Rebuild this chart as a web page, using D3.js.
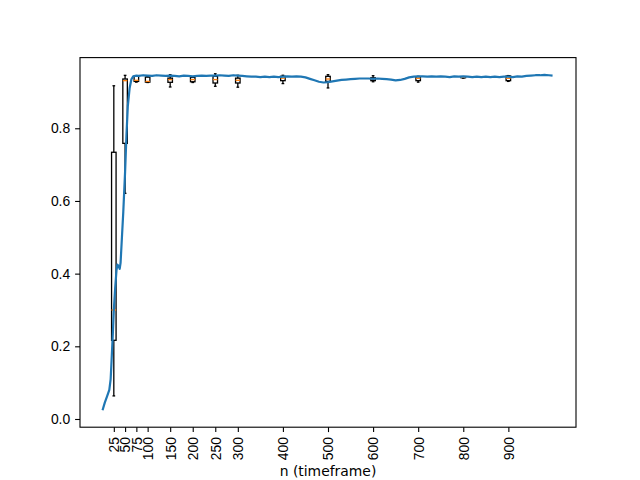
<!DOCTYPE html>
<html>
<head>
<meta charset="utf-8">
<script src="https://cdn.jsdelivr.net/npm/d3@7"></script>
<style>
  body { margin: 0; background: #fff; }
  svg { display: block; font-family: "DejaVu Sans", sans-serif; }
</style>
</head>
<body>
<svg id="chart" width="640" height="480"></svg>
<script>
// mean accuracy curve over n
const lineX = [0, 5, 10, 15, 18, 20, 23, 25, 28, 31, 33, 36, 38, 40, 43, 46, 50, 53, 56, 60, 64, 68, 75,
  80, 90, 100, 110, 120, 130, 140, 150, 160, 170, 180, 190, 200, 210, 220, 230, 240, 250, 260, 270, 280, 290,
  300, 310, 320, 330, 340, 350, 360, 370, 380, 390, 400, 410, 420, 430, 440, 450, 460, 470, 480, 490,
  500, 510, 520, 530, 540, 550, 560, 570, 580, 590, 600, 610, 620, 630, 640, 650, 660, 670, 680, 690,
  700, 710, 720, 730, 740, 750, 760, 770, 780, 790, 800, 810, 820, 830, 840, 850, 860, 870, 880, 890,
  900, 910, 920, 930, 940, 950, 960, 970, 980, 990, 998];
const lineY = [0.024, 0.045, 0.062, 0.080, 0.11, 0.16, 0.24, 0.30, 0.36, 0.41, 0.425, 0.42, 0.413, 0.43, 0.50, 0.57, 0.68, 0.78, 0.86, 0.91, 0.935, 0.943, 0.945,
  0.944, 0.946, 0.945, 0.944, 0.946, 0.945, 0.944, 0.945, 0.944, 0.943, 0.945, 0.944, 0.943, 0.944, 0.945, 0.944, 0.945, 0.945, 0.946, 0.945, 0.944, 0.946,
  0.945, 0.944, 0.943, 0.942, 0.942, 0.941, 0.942, 0.941, 0.942, 0.941, 0.942, 0.943, 0.942, 0.943, 0.942, 0.940, 0.936, 0.932, 0.928, 0.926,
  0.927, 0.929, 0.931, 0.933, 0.934, 0.935, 0.936, 0.937, 0.937, 0.937, 0.936, 0.937, 0.936, 0.935, 0.934, 0.932, 0.933, 0.936, 0.940, 0.942,
  0.943, 0.943, 0.942, 0.943, 0.942, 0.943, 0.942, 0.941, 0.943, 0.942, 0.943, 0.942, 0.941, 0.942, 0.941, 0.942, 0.941, 0.942, 0.941, 0.942,
  0.942, 0.941, 0.943, 0.942, 0.944, 0.945, 0.946, 0.946, 0.947, 0.946, 0.945];

// boxplots at selected n
const boxPos = [25, 50, 75, 100, 150, 200, 250, 300, 400, 500, 600, 700, 800, 900];
const whiskLo = [0.0635, 0.621, 0.927, 0.926, 0.9136, 0.926, 0.9155, 0.913, 0.923, 0.911, 0.928, 0.927, 0.938, 0.929];
const q1 = [0.2165, 0.7585, 0.929, 0.927, 0.9265, 0.928, 0.9246, 0.9246, 0.931, 0.929, 0.931, 0.931, 0.939, 0.931];
const med = [0.300, 0.931, 0.932, 0.929, 0.934, 0.934, 0.934, 0.932, 0.938, 0.9356, 0.9356, 0.9375, 0.940, 0.9375];
const q3 = [0.734, 0.9356, 0.943, 0.941, 0.938, 0.940, 0.943, 0.938, 0.943, 0.943, 0.939, 0.942, 0.941, 0.944];
const whiskHi = [0.917, 0.9457, 0.944, 0.942, 0.9475, 0.942, 0.950, 0.9458, 0.9458, 0.9475, 0.9447, 0.943, 0.942, 0.945];

const yTicks = [0.0, 0.2, 0.4, 0.6, 0.8];

const svg = d3.select("#chart");
const plotL = 80, plotR = 576, plotT = 57.6, plotB = 427.2;

const x = d3.scaleLinear().domain([-50, 1050]).range([plotL, plotR]);
const y = d3.scaleLinear().domain([-0.0226, 0.9945]).range([plotB, plotT]);

const boxW = x(10) - x(0);
const capW = boxW * 0.6;

// boxes
const boxes = svg.append("g");
boxPos.forEach((p, i) => {
  const cx = x(p);
  const g = boxes.append("g").attr("stroke", "#000").attr("stroke-width", 1.3).attr("fill", "none");
  g.append("line").attr("x1", cx).attr("x2", cx).attr("y1", y(whiskLo[i])).attr("y2", y(q1[i]));
  g.append("line").attr("x1", cx).attr("x2", cx).attr("y1", y(q3[i])).attr("y2", y(whiskHi[i]));
  g.append("line").attr("x1", cx - capW / 2).attr("x2", cx + capW / 2).attr("y1", y(whiskLo[i])).attr("y2", y(whiskLo[i]));
  g.append("line").attr("x1", cx - capW / 2).attr("x2", cx + capW / 2).attr("y1", y(whiskHi[i])).attr("y2", y(whiskHi[i]));
  g.append("rect").attr("x", cx - boxW / 2).attr("width", boxW)
    .attr("y", y(q3[i])).attr("height", y(q1[i]) - y(q3[i]));
  g.append("line").attr("stroke", "#ff7f0e")
    .attr("x1", cx - boxW / 2).attr("x2", cx + boxW / 2).attr("y1", y(med[i])).attr("y2", y(med[i]));
});

// curve
const line = d3.line().x((d, i) => x(lineX[i])).y(d => y(d));
svg.append("path")
  .datum(lineY)
  .attr("d", line)
  .attr("fill", "none")
  .attr("stroke", "#1f77b4")
  .attr("stroke-width", 2.2)
  .attr("stroke-linejoin", "round");

// axes
const xAxis = svg.append("g")
  .attr("transform", `translate(0,${plotB})`)
  .call(d3.axisBottom(x).tickValues(boxPos).tickSize(4.9).tickPadding(4.9).tickFormat(d3.format("d")));
xAxis.select(".domain").remove();
xAxis.selectAll(".tick line").attr("stroke", "#000").attr("stroke-width", 1.1);
xAxis.selectAll(".tick text")
  .attr("transform", "rotate(-90)")
  .attr("x", -9.8).attr("y", 0).attr("dy", "0.35em")
  .attr("text-anchor", "end")
  .attr("font-size", 13.9)
  .attr("fill", "#000");

const yAxis = svg.append("g")
  .attr("transform", `translate(${plotL},0)`)
  .call(d3.axisLeft(y).tickValues(yTicks).tickSize(4.9).tickPadding(4.9).tickFormat(d3.format(".1f")));
yAxis.select(".domain").remove();
yAxis.selectAll(".tick line").attr("stroke", "#000").attr("stroke-width", 1.1);
yAxis.selectAll(".tick text").attr("font-size", 13.9).attr("fill", "#000");

// frame
svg.append("rect")
  .attr("x", plotL).attr("y", plotT)
  .attr("width", plotR - plotL).attr("height", plotB - plotT)
  .attr("fill", "none").attr("stroke", "#000").attr("stroke-width", 1.1);

svg.append("text")
  .attr("x", (plotL + plotR) / 2).attr("y", 476)
  .attr("text-anchor", "middle")
  .attr("font-size", 13.9)
  .text("n (timeframe)");
</script>
</body>
</html>
